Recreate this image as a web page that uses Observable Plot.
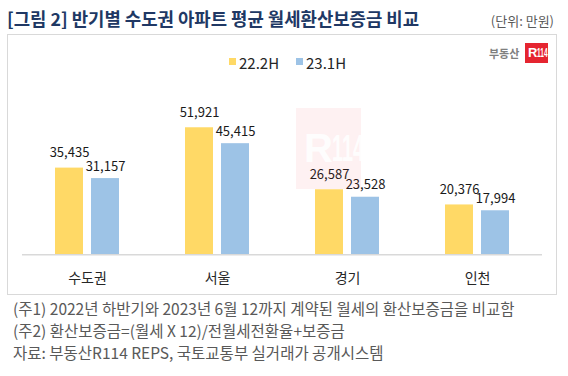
<!DOCTYPE html>
<html><head><meta charset="utf-8">
<script src="https://cdn.jsdelivr.net/npm/d3@7"></script>
<script src="https://cdn.jsdelivr.net/npm/@observablehq/plot@0.6"></script>
<style>
body{margin:0;background:#fff;}
#wrap{position:relative;width:568px;height:376px;overflow:hidden;background:#fff;font-family:"Noto Sans CJK KR","Noto Sans",sans-serif;}
.abs{position:absolute;white-space:nowrap;}
#chart{position:absolute;left:0;top:90px;}
.narrow{display:inline-block;transform:scaleX(0.55);transform-origin:left center;}
</style></head><body><div id="wrap">
<div class="abs" id="title" style="left:7px;top:5px;font-size:17.8px;line-height:26px;font-weight:bold;color:#203864;">[그림 2] 반기별 수도권 아파트 평균 월세환산보증금 비교</div>
<div class="abs" style="right:14px;top:11px;font-size:13px;line-height:20px;color:#595959;">(단위: 만원)</div>
<div class="abs" style="left:7px;top:34px;width:550px;height:261px;border:1.5px solid #d9d9d9;box-sizing:border-box;"></div>
<div id="legend"></div>
<div class="abs" style="left:489px;top:45px;font-size:11px;line-height:16px;font-weight:bold;color:#7f7f7f;">부동산</div>
<div class="abs" style="left:525px;top:43px;width:23px;height:20px;background:#e52530;color:#fff;font-weight:bold;line-height:20px;font-family:'Liberation Sans',sans-serif;"><span style="position:absolute;left:3px;top:0;font-size:13px;">R</span><span class="narrow" style="position:absolute;left:12px;top:0;font-size:12px;">114</span></div>
<div id="chart"></div>
<div class="abs" style="left:296px;top:108px;width:65px;height:81px;background:rgba(240,60,70,0.07);color:rgba(255,255,255,0.9);font-weight:bold;line-height:81px;font-family:'Liberation Sans',sans-serif;pointer-events:none;"><span style="position:absolute;left:8px;top:0;font-size:40px;">R</span><span class="narrow" style="position:absolute;left:36px;top:0;font-size:36px;">114</span></div>
<div class="abs" style="left:197px;top:124px;font-size:34px;line-height:48px;font-weight:bold;color:rgba(0,0,0,0.025);pointer-events:none;">부동산</div>
<div id="notes"></div>
</div>
<script>
const regions = ["수도권", "서울", "경기", "인천"];
const series = ["22.2H", "23.1H"];
const values22H2 = [35435, 51921, 26587, 20376];
const values23H1 = [31157, 45415, 23528, 17994];
const colors = ["#FFD966", "#9DC3E6"];
const notes = [
  "(주1) 2022년 하반기와 2023년 6월 12까지 계약된 월세의 환산보증금을 비교함",
  "(주2) 환산보증금=(월세 X 12)/전월세전환율+보증금",
  "자료: 부동산R114 REPS, 국토교통부 실거래가 공개시스템"
];

const data = regions.flatMap((r, i) => [
  {region: r, series: series[0], value: values22H2[i]},
  {region: r, series: series[1], value: values23H1[i]}
]);
const fmt = d3.format(",");
const font = "'Noto Sans CJK KR','Noto Sans',sans-serif";

const chart = Plot.plot({
  width: 568, height: 200,
  marginTop: 17.5, marginBottom: 35.7, marginLeft: 21, marginRight: 26,
  style: {fontFamily: font, fontSize: "13px", color: "#262626", background: "transparent"},
  fx: {domain: regions, padding: 0, label: null},
  x: {domain: series, paddingInner: 0.216, paddingOuter: 0.87, axis: null},
  y: {domain: [0, 60000], axis: null},
  color: {domain: series, range: colors},
  marks: [
    Plot.barY(data, {fx: "region", x: "series", y: "value", fill: "series"}),
    Plot.ruleY([0], {stroke: "#d9d9d9", strokeWidth: 1.5}),
    Plot.text(data.filter(d => d.series === series[0]), {fx: "region", x: "series", y: "value", text: d => fmt(d.value), dy: -15, fontSize: 13, fill: "#1a1a1a"}),
    Plot.text(data.filter(d => d.series === series[1]), {fx: "region", x: "series", y: "value", text: d => fmt(d.value), dy: -12, fontSize: 13, fill: "#1a1a1a"}),
    Plot.axisFx({anchor: "bottom", tickSize: 0, tickPadding: 18, fontSize: 14, label: null, fill: "#262626"})
  ]
});
document.getElementById("chart").appendChild(chart);

// legend
const legend = document.getElementById("legend");
const legendPos = [229, 296];
series.forEach((s, i) => {
  const sq = document.createElement("div");
  sq.className = "abs";
  sq.style.cssText = `left:${legendPos[i]}px;top:58px;width:7px;height:7px;background:${colors[i]};`;
  legend.appendChild(sq);
  const t = document.createElement("div");
  t.className = "abs";
  t.style.cssText = `left:${legendPos[i] + 10}px;top:53px;font-size:15px;line-height:20px;color:#262626;`;
  t.textContent = s;
  legend.appendChild(t);
});

// notes
const nEl = document.getElementById("notes");
notes.forEach((n, i) => {
  const d = document.createElement("div");
  d.className = "abs";
  d.style.cssText = `left:13px;top:${297 + i * 22}px;font-size:15.5px;line-height:22px;color:#595959;`;
  d.textContent = n;
  nEl.appendChild(d);
});
</script>
</body></html>
